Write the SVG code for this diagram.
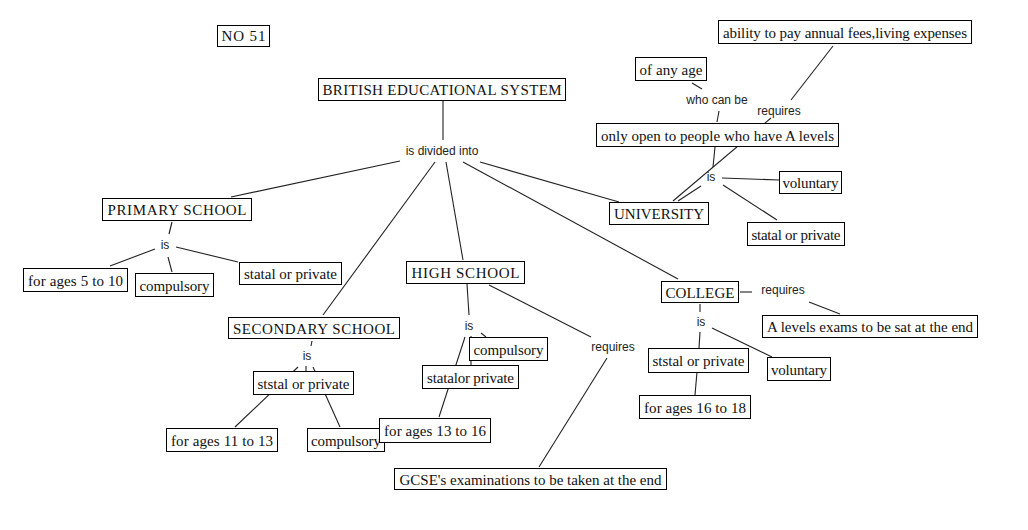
<svg xmlns="http://www.w3.org/2000/svg" width="1028" height="530" viewBox="0 0 1028 530">
<style>
.bg{fill:#fff}
.n rect{fill:#fff;stroke:#000;stroke-width:1}
.n text{font-family:"Liberation Serif","Times New Roman",serif;font-size:15px;fill:#111;text-anchor:middle}
.lab text{font-family:"Liberation Sans",Arial,sans-serif;font-size:12px;fill:#222;text-anchor:middle}
#connectors line{stroke:#222;stroke-width:1.1}
</style>
<rect class="bg" x="0" y="0" width="1028" height="530"/>
<g id="connectors">
<line x1="443" y1="101" x2="443" y2="140"/>
<line x1="400" y1="161" x2="231" y2="197"/>
<line x1="435" y1="162" x2="323" y2="315"/>
<line x1="446" y1="162" x2="463" y2="260"/>
<line x1="463" y1="162" x2="678" y2="279"/>
<line x1="480" y1="162" x2="619" y2="202"/>
<line x1="172" y1="222" x2="169" y2="234"/>
<line x1="155" y1="249" x2="110" y2="266"/>
<line x1="168" y1="257" x2="172" y2="272"/>
<line x1="176" y1="247" x2="238" y2="262"/>
<line x1="312" y1="341" x2="311" y2="346"/>
<line x1="298" y1="367" x2="235" y2="427"/>
<line x1="306" y1="366" x2="306" y2="371"/>
<line x1="313" y1="367" x2="340" y2="427"/>
<line x1="467" y1="284" x2="469" y2="315"/>
<line x1="481" y1="333" x2="486" y2="337"/>
<line x1="471" y1="336" x2="471" y2="365"/>
<line x1="465" y1="337" x2="439" y2="417"/>
<line x1="489" y1="285" x2="591" y2="337"/>
<line x1="607" y1="358" x2="539" y2="467"/>
<line x1="740" y1="292" x2="752" y2="292"/>
<line x1="809" y1="302" x2="840" y2="314"/>
<line x1="700" y1="304" x2="700" y2="312"/>
<line x1="700" y1="332" x2="699" y2="348"/>
<line x1="712" y1="328" x2="772" y2="357"/>
<line x1="697" y1="372" x2="695" y2="395"/>
<line x1="771" y1="118" x2="673" y2="201"/>
<line x1="715" y1="147" x2="713" y2="167"/>
<line x1="701" y1="186" x2="678" y2="201"/>
<line x1="722" y1="178" x2="779" y2="180"/>
<line x1="723" y1="185" x2="777" y2="220"/>
<line x1="692" y1="83" x2="702" y2="89"/>
<line x1="719" y1="111" x2="717" y2="122"/>
<line x1="791" y1="100" x2="833" y2="46"/>
</g>
<g id="n-no51" class="n"><rect x="217.5" y="25.5" width="52" height="21"/><text x="243.5" y="41" textLength="44">NO 51</text></g>
<g id="n-british" class="n"><rect x="318.5" y="78.5" width="247" height="22"/><text x="442" y="95" textLength="239">BRITISH EDUCATIONAL SYSTEM</text></g>
<g id="n-primary" class="n"><rect x="102.5" y="198.5" width="149" height="22"/><text x="177" y="215" textLength="139">PRIMARY SCHOOL</text></g>
<g id="n-ages5" class="n"><rect x="23.5" y="268.5" width="104" height="23"/><text x="75.5" y="285.5" textLength="95">for ages 5 to 10</text></g>
<g id="n-comp1" class="n"><rect x="135.5" y="273.5" width="78" height="23"/><text x="174.5" y="290.5" textLength="70">compulsory</text></g>
<g id="n-statal1" class="n"><rect x="239.5" y="262.5" width="102" height="22"/><text x="290.5" y="279" textLength="93">statal or private</text></g>
<g id="n-secondary" class="n"><rect x="228.5" y="317.5" width="171" height="21"/><text x="314" y="333.5" textLength="162">SECONDARY SCHOOL</text></g>
<g id="n-ststal2" class="n"><rect x="253.5" y="371.5" width="100" height="23"/><text x="303.5" y="388.5" textLength="92">ststal or private</text></g>
<g id="n-ages11" class="n"><rect x="166.5" y="428.5" width="111" height="23"/><text x="222" y="445.5" textLength="102">for ages 11 to 13</text></g>
<g id="n-comp2" class="n"><rect x="307.5" y="428.5" width="77" height="23"/><text x="346" y="445.5" textLength="70">compulsory</text></g>
<g id="n-high" class="n"><rect x="406.5" y="261.5" width="118" height="22"/><text x="465.5" y="278" textLength="108">HIGH SCHOOL</text></g>
<g id="n-comp3" class="n"><rect x="469.5" y="337.5" width="78" height="23"/><text x="508.5" y="354.5" textLength="70">compulsory</text></g>
<g id="n-statalor" class="n"><rect x="422.5" y="365.5" width="96" height="23"/><text x="470.5" y="382.5" textLength="87">statalor private</text></g>
<g id="n-ages13" class="n"><rect x="379.5" y="418.5" width="111" height="24"/><text x="435" y="436" textLength="102">for ages 13 to 16</text></g>
<g id="n-gcse" class="n"><rect x="394.5" y="468.5" width="272" height="21"/><text x="530.5" y="484.5" textLength="262">GCSE's examinations to be taken at the end</text></g>
<g id="n-college" class="n"><rect x="661.5" y="281.5" width="77" height="21"/><text x="700" y="297.5" textLength="69">COLLEGE</text></g>
<g id="n-alevels" class="n"><rect x="762.5" y="315.5" width="215" height="22"/><text x="870" y="332" textLength="206">A levels exams to be sat at the end</text></g>
<g id="n-ststal4" class="n"><rect x="648.5" y="348.5" width="100" height="24"/><text x="698.5" y="366" textLength="92">ststal or private</text></g>
<g id="n-vol4" class="n"><rect x="767.5" y="357.5" width="63" height="23"/><text x="799" y="374.5" textLength="56">voluntary</text></g>
<g id="n-ages16" class="n"><rect x="639.5" y="395.5" width="111" height="23"/><text x="695" y="412.5" textLength="102">for ages 16 to 18</text></g>
<g id="n-university" class="n"><rect x="609.5" y="202.5" width="99" height="22"/><text x="659" y="219" textLength="90">UNIVERSITY</text></g>
<g id="n-onlyopen" class="n"><rect x="596.5" y="123.5" width="242" height="23"/><text x="717.5" y="140.5" textLength="233">only open to people who have A levels</text></g>
<g id="n-vol5" class="n"><rect x="779.5" y="171.5" width="62" height="22"/><text x="810.5" y="188" textLength="56">voluntary</text></g>
<g id="n-statal5" class="n"><rect x="747.5" y="222.5" width="97" height="23"/><text x="796" y="239.5" textLength="89">statal or private</text></g>
<g id="n-anyage" class="n"><rect x="635.5" y="57.5" width="71" height="23"/><text x="671" y="74.5" textLength="63">of any age</text></g>
<g id="n-ability" class="n"><rect x="718.5" y="20.5" width="253" height="23"/><text x="845" y="37.5" textLength="244">ability to pay annual fees,living expenses</text></g>
<g id="labels" class="lab">
<text x="442" y="155">is divided into</text>
<text x="165" y="249">is</text>
<text x="307" y="360">is</text>
<text x="469" y="330">is</text>
<text x="613" y="351">requires</text>
<text x="701" y="326">is</text>
<text x="783" y="294">requires</text>
<text x="711" y="181">is</text>
<text x="717" y="104">who can be</text>
<text x="779" y="115">requires</text>
</g>
</svg>
